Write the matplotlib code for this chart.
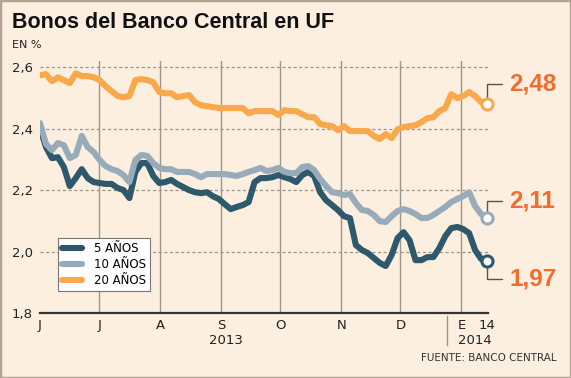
import pandas as pd
import matplotlib.pyplot as plt

# Tasas de los bonos del Banco Central en UF (%), junio 2013 - 14 enero 2014
bono_5 = [2.402, 2.340, 2.304, 2.307, 2.275, 2.213, 2.239, 2.268, 2.239, 2.226,
          2.223, 2.220, 2.220, 2.207, 2.200, 2.174, 2.259, 2.288, 2.288, 2.246,
          2.223, 2.226, 2.233, 2.220, 2.210, 2.200, 2.193, 2.190, 2.193, 2.180,
          2.171, 2.154, 2.138, 2.145, 2.151, 2.161, 2.226, 2.239, 2.239, 2.242,
          2.249, 2.242, 2.236, 2.226, 2.249, 2.259, 2.246, 2.193, 2.167, 2.151,
          2.135, 2.115, 2.109, 2.021, 2.005, 1.995, 1.979, 1.963, 1.953, 1.989,
          2.044, 2.063, 2.037, 1.972, 1.972, 1.982, 1.982, 2.011, 2.050, 2.076,
          2.080, 2.073, 2.060, 2.005, 1.976, 1.970]
bono_10 = [2.418, 2.350, 2.330, 2.353, 2.346, 2.304, 2.314, 2.376, 2.340, 2.324,
           2.298, 2.278, 2.268, 2.262, 2.249, 2.226, 2.298, 2.314, 2.311, 2.288,
           2.272, 2.268, 2.268, 2.259, 2.259, 2.259, 2.252, 2.242, 2.252, 2.252,
           2.252, 2.252, 2.249, 2.246, 2.252, 2.259, 2.265, 2.272, 2.262, 2.265,
           2.272, 2.259, 2.255, 2.255, 2.275, 2.278, 2.265, 2.236, 2.213, 2.193,
           2.190, 2.184, 2.187, 2.158, 2.135, 2.132, 2.119, 2.099, 2.096, 2.115,
           2.132, 2.138, 2.132, 2.122, 2.109, 2.109, 2.119, 2.132, 2.145, 2.161,
           2.171, 2.180, 2.193, 2.148, 2.122, 2.110]
bono_20 = [2.574, 2.577, 2.554, 2.567, 2.558, 2.548, 2.580, 2.571, 2.571, 2.567,
           2.558, 2.538, 2.522, 2.506, 2.502, 2.506, 2.558, 2.561, 2.558, 2.551,
           2.519, 2.515, 2.515, 2.502, 2.506, 2.509, 2.486, 2.476, 2.473, 2.470,
           2.467, 2.467, 2.467, 2.467, 2.467, 2.450, 2.457, 2.457, 2.457, 2.457,
           2.444, 2.460, 2.457, 2.457, 2.447, 2.437, 2.437, 2.415, 2.411, 2.408,
           2.395, 2.408, 2.392, 2.392, 2.392, 2.392, 2.376, 2.366, 2.382, 2.369,
           2.398, 2.405, 2.408, 2.411, 2.421, 2.434, 2.437, 2.457, 2.467, 2.512,
           2.499, 2.506, 2.519, 2.506, 2.486, 2.480]

series = ['5 AÑOS', '10 AÑOS', '20 AÑOS']
colores = ['#2e586c', '#98abba', '#f9a94c']
etiquetas_fin = ['1,97', '2,11', '2,48']
meses = ['J', 'J', 'A', 'S', 'O', 'N', 'D', 'E']
y_ticks = [1.8, 2.0, 2.2, 2.4, 2.6]
y_labels = ['1,8', '2,0', '2,2', '2,4', '2,6']

fondo = '#fcefdf'
naranjo = '#f26d2d'

fechas = pd.date_range('2013-06-01', '2014-01-14', periods=len(bono_5))
inicio_meses = pd.date_range('2013-06-01', '2014-01-01', freq='MS')

fig = plt.figure(figsize=(5.71, 3.78), dpi=100, facecolor=fondo)
ax = fig.add_axes([40 / 571, 1 - 313 / 378, 448 / 571, 252 / 378])
ax.set_facecolor(fondo)

# grilla
for y in y_ticks[1:]:
    ax.axhline(y, color='#9a948c', lw=0.9, ls=(0, (2.5, 2)), zorder=1)
for m in inicio_meses[1:]:
    ax.axvline(m, color='#9e958a', lw=1.0, zorder=1)

for datos, color, nombre in zip([bono_5, bono_10, bono_20], colores, series):
    ax.plot(fechas, datos, color=color, lw=4.4, label=nombre,
            solid_joinstyle='round', solid_capstyle='round', zorder=3)

# circulos y etiquetas finales
desplaz = [-13, 12, 14.5]
for datos, color, txt, dy in zip([bono_5, bono_10, bono_20], colores, etiquetas_fin, desplaz):
    ax.plot(fechas[-1], datos[-1], 'o', ms=8, mfc='white', mec=color, mew=2.2,
            zorder=5, clip_on=False)
    ax.annotate(txt, xy=(fechas[-1], datos[-1]), xytext=(16, dy),
                textcoords='offset points', ha='left', va='center',
                fontsize=17.5, fontweight='bold', color=naranjo,
                family='Liberation Sans',
                arrowprops=dict(arrowstyle='-', color='#555555', lw=1,
                                connectionstyle='angle,angleA=0,angleB=90,rad=0',
                                shrinkA=3, shrinkB=5))

ax.set_xlim(fechas[0], fechas[-1] + pd.Timedelta(hours=12))
ax.set_ylim(1.8, 2.62)

ax.set_yticks(y_ticks)
ax.set_yticklabels(y_labels, fontsize=9.5, color='#222222')
ax.set_xticks(list(inicio_meses) + [fechas[-1]])
ax.set_xticklabels(meses + ['14'], fontsize=9.5, color='#222222')
ax.tick_params(length=0, pad=4)
ax.tick_params(axis='y', pad=5)

for lado in ['top', 'right', 'left']:
    ax.spines[lado].set_visible(False)
ax.spines['bottom'].set_color('#333333')
ax.spines['bottom'].set_linewidth(1.6)

fig.text(226 / 571, 1 - 340 / 378, '2013', ha='center', va='center',
         fontsize=9.5, color='#222222')
fig.text(475 / 571, 1 - 341 / 378, '2014', ha='center', va='center',
         fontsize=9.5, color='#222222')
fig.add_artist(plt.Line2D([447 / 571, 447 / 571], [1 - 345 / 378, 1 - 316 / 378],
                          color='#9e958a', lw=1))

ley = fig.legend(loc='lower left', bbox_to_anchor=(52 / 571, 1 - 297 / 378),
                 bbox_transform=fig.transFigure, fontsize=8.5, handlelength=1.7,
                 labelspacing=0.25, borderpad=0.35, handletextpad=1.0,
                 fancybox=False, framealpha=1, edgecolor='#777777')
ley.get_frame().set_linewidth(0.8)

fig.text(12 / 571, 1 - 23 / 378, 'Bonos del Banco Central en UF', ha='left', va='center',
         fontsize=15.5, fontweight='bold', family='Liberation Sans', color='#111111')
fig.text(12 / 571, 1 - 45 / 378, 'EN %', ha='left', va='center',
         fontsize=8, color='#222222')
fig.text(557 / 571, 1 - 358 / 378, 'FUENTE: BANCO CENTRAL', ha='right', va='center',
         fontsize=7.5, color='#333333')

fig.add_artist(plt.Rectangle((0, 0), 1, 1, transform=fig.transFigure, fill=False,
                             edgecolor='#b3a595', lw=2.5))

plt.savefig('out.png', dpi=100, facecolor=fondo)
